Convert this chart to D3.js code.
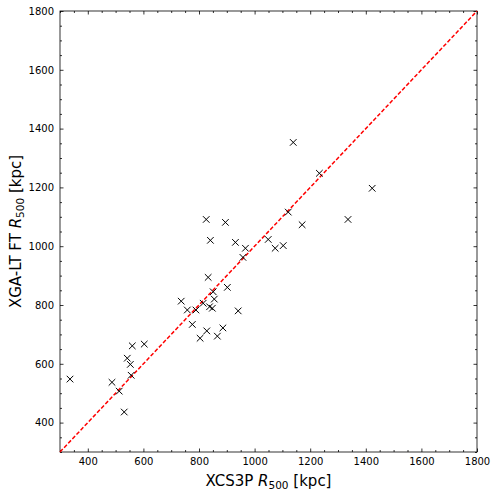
<!DOCTYPE html>
<html>
<head>
<meta charset="utf-8">
<script src="https://cdn.jsdelivr.net/npm/d3@7"></script>
<style>
  body { margin: 0; background: #fff; }
  text { font-family: "DejaVu Sans", sans-serif; }
</style>
</head>
<body>
<div id="container"></div>
<script>
// XCS3P R500 (x) vs XGA-LT FT R500 (y), kpc
var xcs3p = [336, 487, 513, 531, 542, 553, 556, 560, 603,
             736, 758, 776, 789, 804, 815, 826, 828, 833, 838, 841, 848, 851, 855,
             866, 886, 895, 902, 931, 941, 958, 967, 1049, 1074, 1103, 1121, 1139,
             1171, 1233, 1336, 1423];
var xgaFt = [548, 537, 507, 436, 619, 598, 561, 661, 667,
             813, 783, 734, 783, 687, 806, 1091, 712, 894, 794, 1020, 789, 845, 820,
             694, 722, 1081, 860, 1013, 780, 962, 993, 1023, 993, 1002, 1116, 1353,
             1073, 1248, 1091, 1197];
var axisMin = 300, axisMax = 1800;
var majorTicks = [400, 600, 800, 1000, 1200, 1400, 1600, 1800];

var margin = {top: 11, right: 19, bottom: 44, left: 60},
    width = 496 - margin.left - margin.right,
    height = 496 - margin.top - margin.bottom;

var points = xcs3p.map(function(v, i) { return {x: v, y: xgaFt[i]}; });

var x = d3.scaleLinear().domain([axisMin, axisMax]).range([0, width]);
var y = d3.scaleLinear().domain([axisMin, axisMax]).range([height, 0]);

var svg = d3.select("#container").append("svg")
    .attr("width", 496)
    .attr("height", 496)
  .append("g")
    .attr("transform", "translate(" + margin.left + "," + margin.top + ")");

var minorTicks = d3.range(axisMin, axisMax + 1, 50).filter(function(v) { return v % 200 !== 0; });

function styleAxis(g) {
  g.select(".domain").remove();
  g.selectAll("line").attr("stroke", "#000").attr("stroke-width", 0.8);
  g.selectAll("text").attr("font-size", "10px").attr("fill", "#000");
}

// major ticks, pointing in
svg.append("g").attr("transform", "translate(0," + height + ")")
    .call(d3.axisBottom(x).tickValues(majorTicks).tickSize(-3.5).tickPadding(6).tickFormat(d3.format("d")))
    .call(styleAxis);
svg.append("g")
    .call(d3.axisLeft(y).tickValues(majorTicks).tickSize(-3.5).tickPadding(6).tickFormat(d3.format("d")))
    .call(styleAxis);
svg.append("g")
    .call(d3.axisTop(x).tickValues(majorTicks).tickSize(-3.5).tickFormat(""))
    .call(styleAxis);
svg.append("g").attr("transform", "translate(" + width + ",0)")
    .call(d3.axisRight(y).tickValues(majorTicks).tickSize(-3.5).tickFormat(""))
    .call(styleAxis);

// minor ticks
svg.append("g").attr("transform", "translate(0," + height + ")")
    .call(d3.axisBottom(x).tickValues(minorTicks).tickSize(-2).tickFormat(""))
    .call(styleAxis);
svg.append("g")
    .call(d3.axisLeft(y).tickValues(minorTicks).tickSize(-2).tickFormat(""))
    .call(styleAxis);
svg.append("g")
    .call(d3.axisTop(x).tickValues(minorTicks).tickSize(-2).tickFormat(""))
    .call(styleAxis);
svg.append("g").attr("transform", "translate(" + width + ",0)")
    .call(d3.axisRight(y).tickValues(minorTicks).tickSize(-2).tickFormat(""))
    .call(styleAxis);

// frame
svg.append("rect")
    .attr("width", width)
    .attr("height", height)
    .attr("fill", "none")
    .attr("stroke", "#000")
    .attr("stroke-width", 0.8);

// one-to-one line
svg.append("line")
    .attr("x1", x(axisMin)).attr("y1", y(axisMin))
    .attr("x2", x(axisMax)).attr("y2", y(axisMax))
    .attr("stroke", "red")
    .attr("stroke-width", 1.5)
    .attr("stroke-dasharray", "4,2");

// x markers
var s = 3.3;
svg.selectAll(".dot")
    .data(points)
  .enter().append("path")
    .attr("class", "dot")
    .attr("d", function(p) {
      var cx = x(p.x), cy = y(p.y);
      return "M" + (cx - s) + "," + (cy - s) + "L" + (cx + s) + "," + (cy + s) +
             "M" + (cx - s) + "," + (cy + s) + "L" + (cx + s) + "," + (cy - s);
    })
    .attr("stroke", "#000")
    .attr("stroke-width", 1)
    .attr("fill", "none");

// axis labels
var xl = svg.append("text")
    .attr("x", width / 2)
    .attr("y", height + 34)
    .attr("text-anchor", "middle")
    .attr("font-size", "15px");
xl.append("tspan").text("XCS3P ");
xl.append("tspan").attr("font-style", "italic").text("R");
xl.append("tspan").attr("font-size", "10.5px").attr("dy", 3).text("500");
xl.append("tspan").attr("dy", -3).text(" [kpc]");

var yl = svg.append("text")
    .attr("transform", "translate(" + (-39) + "," + (height / 2) + ") rotate(-90)")
    .attr("text-anchor", "middle")
    .attr("font-size", "15px");
yl.append("tspan").text("XGA-LT FT ");
yl.append("tspan").attr("font-style", "italic").text("R");
yl.append("tspan").attr("font-size", "10.5px").attr("dy", 3).text("500");
yl.append("tspan").attr("dy", -3).text(" [kpc]");
</script>
</body>
</html>
